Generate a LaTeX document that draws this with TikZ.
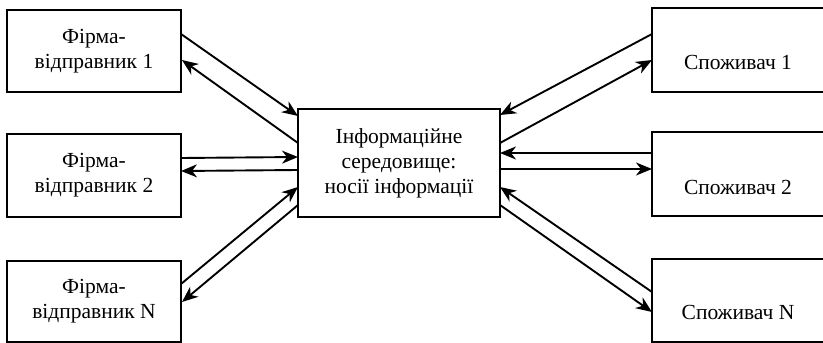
\documentclass[tikz,border=0pt]{standalone}
\usepackage{fontspec}
\setmainfont{Liberation Serif}
\newfontfamily\tnr{Liberation Serif}
\usetikzlibrary{arrows.meta}
\begin{document}
\begin{tikzpicture}[x=1pt,y=-1pt,
  box/.style={draw,line width=1.9pt,rectangle,outer sep=0pt,inner sep=0pt,align=center,
    font=\tnr\fontsize{21.5}{25}\selectfont},
  lbl/.style={inner sep=0pt,font=\tnr\fontsize{21.5}{25}\selectfont},
  arr/.style={line width=1.9pt,-{Stealth[length=16pt,width=13pt,inset=5pt]}}]
\useasboundingbox (0,0) rectangle (823,343);
\node[box,minimum width=174pt,minimum height=82pt] (l1) at (94,51) {Фірма-\\відправник 1};
\node[box,minimum width=174pt,minimum height=83pt] (l2) at (94,175.5) {Фірма-\\відправник 2};
\node[box,minimum width=174pt,minimum height=81pt] (lN) at (94,301.5) {Фірма-\\відправник N};
\node[box,minimum width=202pt,minimum height=108pt] (m) at (399,163) {Інформаційне\\середовище:\\носії інформації};
\node[box,minimum width=174pt,minimum height=84pt] (r1) at (739,50) {};
\node[box,minimum width=174pt,minimum height=84pt] (r2) at (739,174) {};
\node[box,minimum width=174pt,minimum height=83pt] (rN) at (739,300.5) {};
\node[lbl] (t1) at ([yshift=-12pt,xshift=-1pt]r1.center) {Споживач 1};
\node[lbl] (t2) at ([yshift=-13pt,xshift=-1pt]r2.center) {Споживач 2};
\node[lbl] (tN) at ([yshift=-12pt,xshift=-1pt]rN.center) {Споживач N};
% left side
\draw[arr] ([yshift=-24pt]l1.north east) -- ([yshift=-7pt]m.north west);
\draw[arr] ([yshift=-34pt]m.north west) -- ([yshift=-50pt,xshift=1pt]l1.north east);
\draw[arr] ([yshift=-24pt]l2.north east) -- ([yshift=-48pt]m.north west);
\draw[arr] ([yshift=-61pt]m.north west) -- ([yshift=-37pt]l2.north east);
\draw[arr] ([yshift=-23pt]lN.north east) -- ([yshift=-78pt]m.north west);
\draw[arr] ([yshift=-96pt]m.north west) -- ([yshift=-41pt,xshift=1pt]lN.north east);
% right side
\draw[arr] ([yshift=-26pt]r1.north west) -- ([yshift=-6pt]m.north east);
\draw[arr] ([yshift=-34pt]m.north east) -- ([yshift=-52pt]r1.north west);
\draw[arr] ([yshift=-21pt]r2.north west) -- ([yshift=-44pt]m.north east);
\draw[arr] ([yshift=-60pt]m.north east) -- ([yshift=-37pt]r2.north west);
\draw[arr] ([yshift=-33pt]rN.north west) -- ([yshift=-78pt]m.north east);
\draw[arr] ([yshift=-96pt]m.north east) -- ([yshift=-53pt]rN.north west);
\end{tikzpicture}
\end{document}
